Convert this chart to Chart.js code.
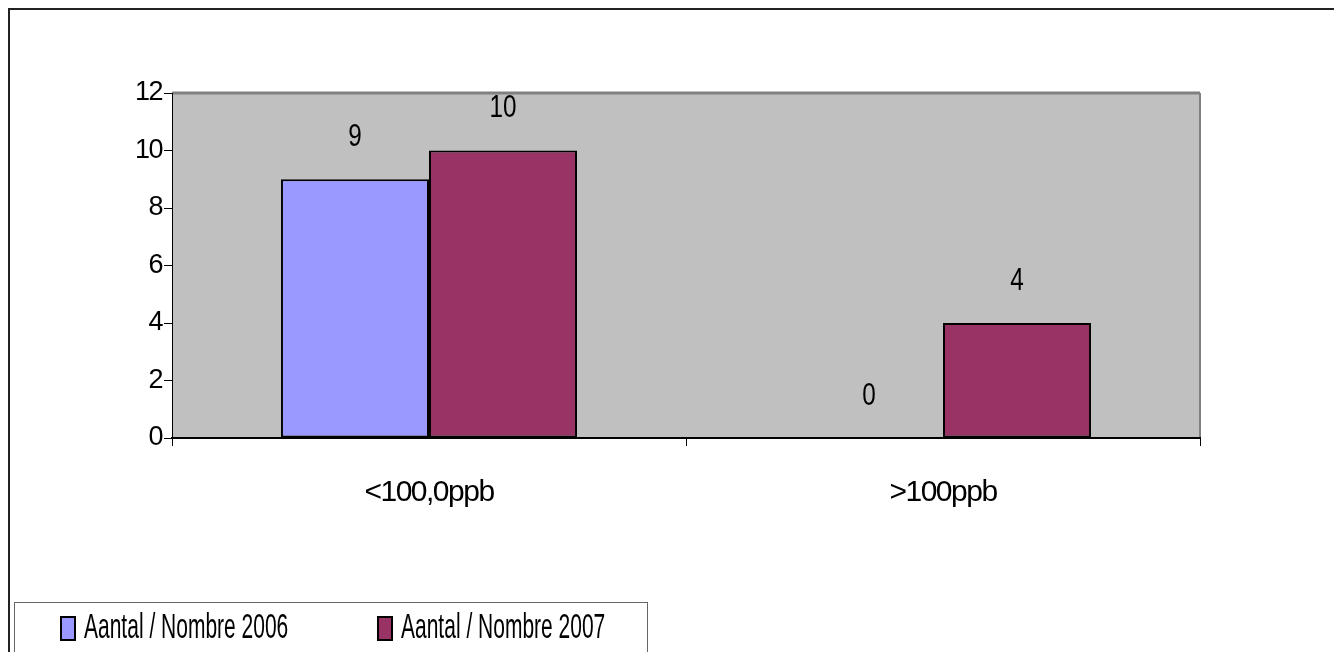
<!DOCTYPE html>
<html>
<head>
<meta charset="utf-8">
<script src="https://cdn.jsdelivr.net/npm/chart.js@4/dist/chart.umd.min.js"></script>
<style>
  html, body { margin: 0; padding: 0; background: #fff; }
  #wrap { width: 1334px; height: 652px; }
</style>
</head>
<body>
<div id="wrap"><canvas id="chart1" width="1334" height="652"></canvas></div>
<script>
// data
const categories = ['<100,0ppb', '>100ppb'];
const labels = ['Aantal / Nombre 2006', 'Aantal / Nombre 2007'];
const values2006 = [9, 0];
const values2007 = [10, 4];
const yTicks = [0, 2, 4, 6, 8, 10, 12];

const FONT = "'Liberation Sans', Arial, sans-serif";

// squeezed text, like the old Excel export
function squeezedText(ctx, text, x, y, size, sx, align) {
  ctx.save();
  ctx.font = size + 'px ' + FONT;
  ctx.letterSpacing = '0px';
  const w = ctx.measureText(text).width * sx;
  const left = align === 'center' ? x - w / 2 : x;
  ctx.translate(left, y);
  ctx.scale(sx, 1);
  ctx.textAlign = 'left';
  ctx.textBaseline = 'middle';
  ctx.fillText(text, 0, 0);
  ctx.restore();
}

// gray plot area + outer frame
const background = {
  id: 'background',
  beforeDraw(chart) {
    const { ctx, chartArea: a } = chart;
    ctx.letterSpacing = '-1.5px';
    ctx.save();
    ctx.fillStyle = '#C0C0C0';
    ctx.fillRect(a.left, a.top, a.right - a.left, a.bottom - a.top);
    ctx.strokeStyle = '#808080';
    ctx.lineWidth = 3;
    ctx.beginPath();
    ctx.moveTo(a.left, a.top);
    ctx.lineTo(a.right, a.top);
    ctx.stroke();
    ctx.lineWidth = 2;
    ctx.beginPath();
    ctx.moveTo(a.right, a.top);
    ctx.lineTo(a.right, a.bottom);
    ctx.stroke();
    // frame of the whole chart object
    ctx.strokeStyle = '#222';
    ctx.lineWidth = 2;
    ctx.beginPath();
    ctx.moveTo(9, 700);
    ctx.lineTo(9, 9);
    ctx.lineTo(1334, 9);
    ctx.stroke();
    ctx.restore();
  }
};

const valueLabels = {
  id: 'valueLabels',
  afterDatasetsDraw(chart) {
    const { ctx } = chart;
    ctx.fillStyle = '#000';
    chart.data.datasets.forEach((ds, i) => {
      chart.getDatasetMeta(i).data.forEach((bar, j) => {
        squeezedText(ctx, String(ds.data[j]), bar.x, bar.y - 42, 32, 0.76, 'center');
      });
    });
  }
};

const boxLegend = {
  id: 'boxLegend',
  afterDraw(chart) {
    const { ctx } = chart;
    ctx.save();
    ctx.strokeStyle = '#666';
    ctx.lineWidth = 1;
    ctx.strokeRect(14.5, 602.5, 633, 80);
    const xs = [61, 378];
    chart.data.datasets.forEach((ds, i) => {
      ctx.fillStyle = ds.backgroundColor;
      ctx.fillRect(xs[i], 617, 14, 23);
      ctx.strokeStyle = '#000';
      ctx.lineWidth = 2;
      ctx.strokeRect(xs[i], 617, 14, 23);
      ctx.fillStyle = '#000';
      squeezedText(ctx, ds.label, xs[i] + 23, 628, 35, 0.6, 'left');
    });
    ctx.restore();
  }
};

const ctx1 = document.getElementById('chart1').getContext('2d');
const chart1 = new Chart(ctx1, {
  type: 'bar',
  data: {
    labels: categories,
    datasets: [{
      label: labels[0],
      data: values2006,
      backgroundColor: '#9999FF',
      borderColor: '#000',
      borderWidth: 2,
      borderSkipped: false
    }, {
      label: labels[1],
      data: values2007,
      backgroundColor: '#993366',
      borderColor: '#000',
      borderWidth: 2,
      borderSkipped: false
    }]
  },
  options: {
    responsive: false,
    animation: false,
    categoryPercentage: 0.576,
    barPercentage: 1.0,
    layout: {
      padding: { top: 93, right: 134, left: 0, bottom: 0 }
    },
    plugins: {
      legend: { display: false },
      tooltip: { enabled: false },
      title: { display: false }
    },
    scales: {
      x: {
        afterFit(scale) { scale.height = 214; },
        grid: { drawOnChartArea: false, tickLength: 8, color: '#000', tickColor: '#000' },
        border: { display: true, color: '#000', width: 2 },
        ticks: { color: '#000', font: { size: 30, family: FONT }, padding: 29 }
      },
      y: {
        min: 0,
        max: 12,
        afterFit(scale) { scale.width = 172; },
        afterBuildTicks(scale) { scale.ticks = yTicks.map(v => ({ value: v })); },
        grid: { drawOnChartArea: false, tickLength: 8, color: '#000', tickColor: '#000' },
        border: { display: true, color: '#000', width: 1 },
        ticks: { color: '#000', font: { size: 27, family: FONT }, padding: 2 }
      }
    }
  },
  plugins: [background, valueLabels, boxLegend]
});
</script>
</body>
</html>
